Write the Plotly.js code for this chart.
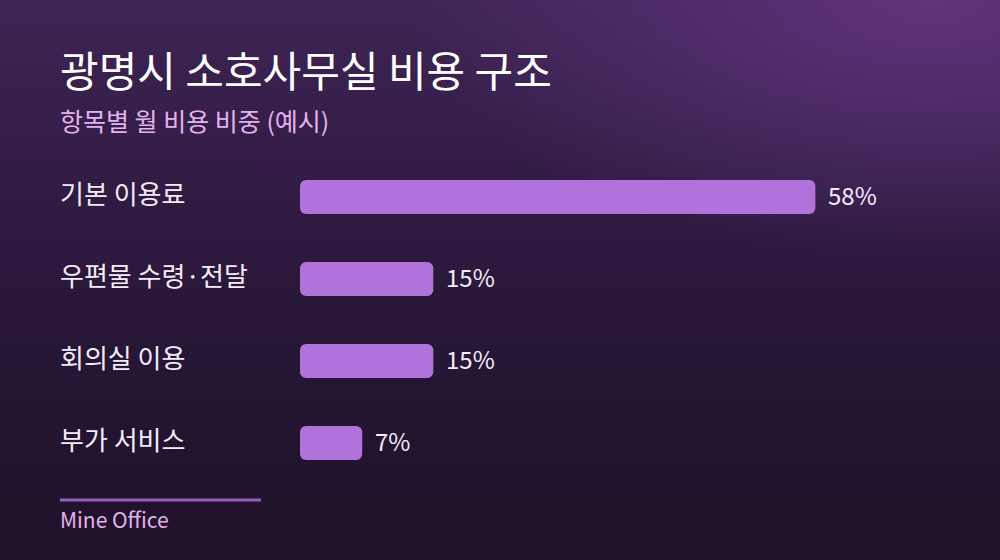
<!DOCTYPE html>
<html>
<head>
<meta charset="utf-8">
<script src="https://cdn.plot.ly/plotly-3.0.1.min.js"></script>
<style>
  html, body { margin:0; padding:0; }
  body {
    width:1000px; height:560px; overflow:hidden;
    background:
      radial-gradient(ellipse 520px 260px at 930px 0px, rgba(96,52,124,0.95), rgba(96,52,124,0) 100%),
      linear-gradient(180deg, #3f2455 0%, #2e1a40 40%, #231531 75%, #1f1229 100%);
  }
  #chart { width:1000px; height:560px; }
</style>
</head>
<body>
<div id="chart"></div>
<script>
// data
const categories = ['기본 이용료', '우편물 수령·전달', '회의실 이용', '부가 서비스'];
const shares = [58, 15, 15, 7];
const titleText = '광명시 소호사무실 비용 구조';
const subtitleText = '항목별 월 비용 비중 (예시)';
const sourceText = 'Mine Office';

const FONT = '"Noto Sans CJK KR", "Noto Sans", sans-serif';
const L = 300, R = 921.6, T = 156, B = 484;
const px = x => (x - L) / (R - L);
const py = y => (B - y) / (B - T);
const LX = px(58);

const annotations = [];
annotations.push({ xref:'paper', yref:'paper', x:LX, y:py(68), xanchor:'left', yanchor:'middle', showarrow:false,
  text:titleText, font:{ family:FONT, size:42, color:'#ffffff' } });
annotations.push({ xref:'paper', yref:'paper', x:LX, y:py(120), xanchor:'left', yanchor:'middle', showarrow:false,
  text:subtitleText, font:{ family:FONT, size:25, color:'#e4b3ee' } });
categories.forEach(function(c){
  annotations.push({ xref:'paper', yref:'y', x:LX, y:c, xanchor:'left', yanchor:'middle', showarrow:false, yshift:5,
    text:c, font:{ family:FONT, size:26, color:'#f4ecf8' } });
});
categories.forEach(function(c, i){
  annotations.push({ xref:'x', yref:'y', x:shares[i], y:c, xanchor:'left', yanchor:'middle', showarrow:false, xshift:11, yshift:3,
    text:shares[i] + '%', font:{ family:FONT, size:24, color:'#f4ecf8' } });
});
annotations.push({ xref:'paper', yref:'paper', x:LX, y:py(519), xanchor:'left', yanchor:'middle', showarrow:false,
  text:sourceText, font:{ family:FONT, size:21, color:'#e4b3ee' } });

// an explicit base makes plotly round both ends of the bar
const trace = {
  type:'bar', orientation:'h', x:shares, y:categories, base:shares.map(() => 0), width:0.415,
  marker:{ color:'#b172db', cornerradius:6, line:{ width:0 } },
  hoverinfo:'skip', textposition:'none'
};

const layout = {
  width:1000, height:560,
  margin:{ l:L, r:1000 - R, t:T, b:560 - B },
  paper_bgcolor:'rgba(0,0,0,0)', plot_bgcolor:'rgba(0,0,0,0)',
  showlegend:false,
  xaxis:{ range:[0, 70], visible:false, fixedrange:true },
  yaxis:{ type:'category', autorange:'reversed', showticklabels:false, showgrid:false, zeroline:false, showline:false, ticks:'', fixedrange:true },
  annotations:annotations,
  shapes:[{ type:'line', xref:'paper', yref:'paper', x0:px(60), x1:px(261), y0:py(500), y1:py(500),
    line:{ color:'#9a5cbf', width:3 } }]
};

Plotly.newPlot('chart', [trace], layout, { displayModeBar:false, staticPlot:true });
</script>
</body>
</html>
